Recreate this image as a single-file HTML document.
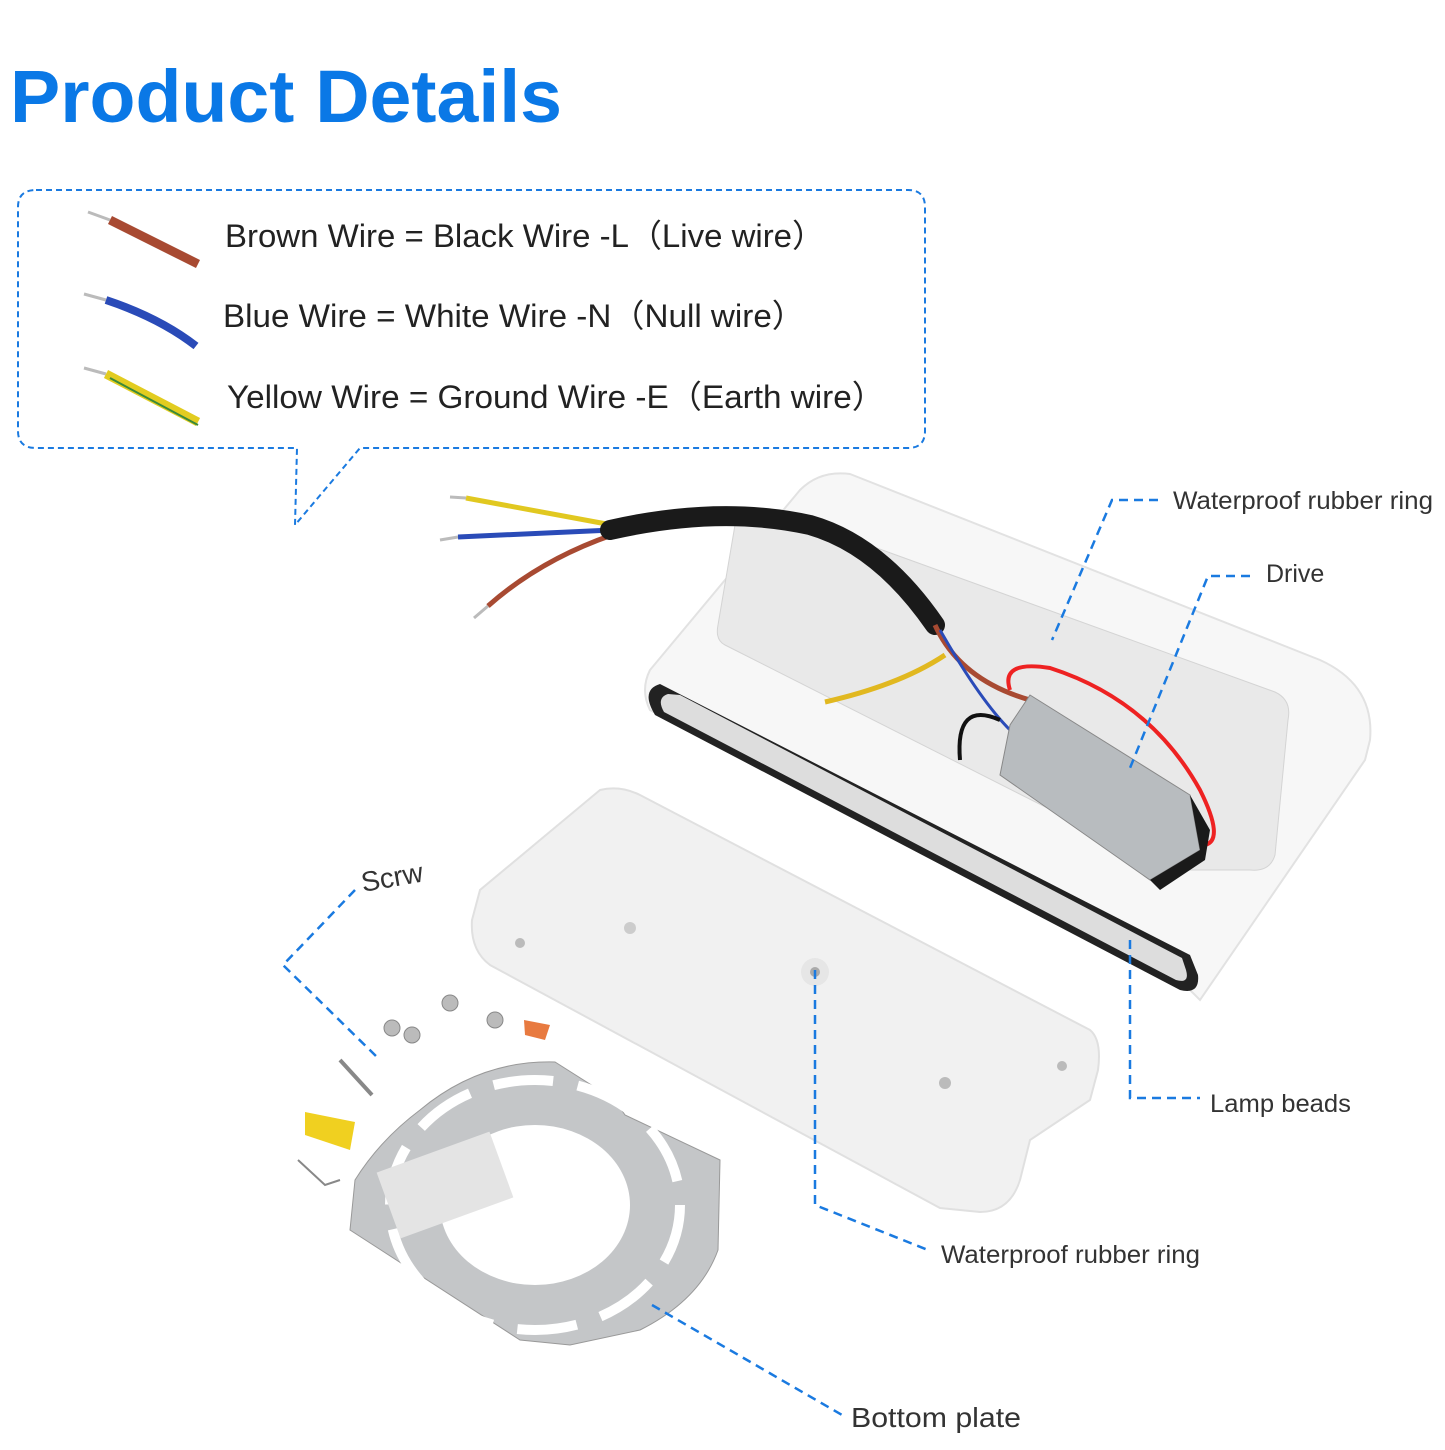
<!DOCTYPE html>
<html><head><meta charset="utf-8"><style>
html,body{margin:0;padding:0;background:#fff;}
body{width:1445px;height:1445px;overflow:hidden;font-family:"Liberation Sans",sans-serif;}
</style></head><body>
<svg width="1445" height="1445" viewBox="0 0 1445 1445" xmlns="http://www.w3.org/2000/svg" font-family="Liberation Sans, sans-serif">
<text x="10" y="122" font-size="74" font-weight="bold" fill="#0a78e6" textLength="552" lengthAdjust="spacingAndGlyphs">Product Details</text>
<!-- callout -->
<path d="M36 190 H908 Q925 190 925 207 V431 Q925 448 908 448 H360 L295 525 L297 448 H36 Q18 448 18 431 V207 Q18 190 36 190 Z" fill="none" stroke="#1a7ae0" stroke-width="2" stroke-dasharray="6,4"/>
<!-- wire samples -->
<line x1="88" y1="212" x2="110" y2="220" stroke="#bbb" stroke-width="3"/>
<line x1="110" y1="220" x2="198" y2="264" stroke="#a84a32" stroke-width="9"/>
<line x1="84" y1="294" x2="106" y2="300" stroke="#bbb" stroke-width="3"/>
<path d="M106 300 Q160 318 196 346" stroke="#2a4bb8" stroke-width="8" fill="none"/>
<line x1="84" y1="368" x2="106" y2="374" stroke="#bbb" stroke-width="3"/>
<line x1="106" y1="374" x2="198" y2="422" stroke="#e2cc20" stroke-width="9"/>
<line x1="110" y1="378" x2="198" y2="425" stroke="#3a8a3a" stroke-width="2"/>
<g font-size="32" fill="#222">
<text x="225" y="247" textLength="600" lengthAdjust="spacingAndGlyphs">Brown Wire = Black Wire -L（Live wire）</text>
<text x="223" y="327" textLength="582" lengthAdjust="spacingAndGlyphs">Blue Wire = White Wire -N（Null  wire）</text>
<text x="227" y="408" textLength="658" lengthAdjust="spacingAndGlyphs">Yellow Wire = Ground Wire -E（Earth wire）</text>
</g>
<!-- lamp body -->
<path d="M850 474 L1320 660 Q1375 685 1370 740 L1365 760 L1200 1000 L1190 990 L650 710 Q640 690 650 670 L800 490 Q820 470 850 474 Z" fill="#f7f7f7" stroke="#e2e2e2" stroke-width="2"/>
<path d="M660 684 Q640 690 655 715 L1180 990 Q1200 995 1198 975 L1190 955 Z" fill="#222"/>
<path d="M668 694 Q656 698 664 712 L1176 980 Q1190 984 1186 970 L1182 958 L680 695 Z" fill="#ddd"/>
<path d="M735 525 Q745 510 780 513 L1275 692 Q1292 700 1288 720 L1275 855 Q1270 872 1250 870 L1170 870 L725 645 Q715 640 718 625 Z" fill="#e9e9e9" stroke="#d4d4d4"/>
<!-- cable -->
<line x1="450" y1="497" x2="466" y2="498" stroke="#bbb" stroke-width="3"/>
<path d="M466 498 L612 525" stroke="#e1c820" stroke-width="5"/>
<line x1="440" y1="540" x2="458" y2="537" stroke="#bbb" stroke-width="3"/>
<path d="M458 537 L612 530" stroke="#2a4bb8" stroke-width="5"/>
<line x1="474" y1="618" x2="488" y2="606" stroke="#bbb" stroke-width="3"/>
<path d="M488 606 Q540 560 612 535" stroke="#a84a32" stroke-width="5" fill="none"/>
<path d="M610 530 Q720 505 810 525 Q880 545 935 625" stroke="#1a1a1a" stroke-width="20" fill="none" stroke-linecap="round"/>
<path d="M935 625 Q960 680 1030 700" stroke="#a84a32" stroke-width="5" fill="none"/>
<path d="M940 630 Q980 700 1010 730" stroke="#2a4bb8" stroke-width="3" fill="none"/>
<path d="M945 655 Q900 685 825 702" stroke="#e1b820" stroke-width="5" fill="none"/>
<path d="M1010 690 Q1000 660 1050 668 Q1150 700 1200 790 Q1225 840 1205 845" stroke="#e22" stroke-width="4" fill="none"/>
<path d="M1000 720 Q955 700 960 760" stroke="#111" stroke-width="4" fill="none"/>
<!-- driver -->
<path d="M1030 695 L1190 795 L1200 850 L1150 880 L1000 775 L1010 725 Z" fill="#b8bcbf" stroke="#888"/>
<path d="M1190 795 L1210 830 L1205 860 L1160 890 L1150 880 L1200 850 Z" fill="#1a1a1a"/>
<!-- bottom plate -->
<path d="M600 790 Q620 785 640 795 L1090 1030 Q1102 1040 1098 1070 L1090 1100 L1030 1140 L1020 1180 Q1010 1212 980 1212 L940 1208 L490 965 Q470 950 472 920 L480 890 Z" fill="#f1f1f1" stroke="#e0e0e0" stroke-width="2"/>
<circle cx="630" cy="928" r="6" fill="#ccc"/><circle cx="815" cy="972" r="14" fill="#e6e6e6"/><circle cx="815" cy="972" r="5" fill="#aaa"/>
<circle cx="945" cy="1083" r="6" fill="#bbb"/><circle cx="520" cy="943" r="5" fill="#bbb"/><circle cx="1062" cy="1066" r="5" fill="#bbb"/>
<!-- mounting plate -->
<path d="M420 1110 Q480 1060 555 1062 L615 1100 L625 1115 L720 1160 L718 1250 Q700 1300 640 1330 L570 1345 L520 1340 L350 1230 L355 1180 Q380 1140 420 1110 Z" fill="#c4c6c8" stroke="#999"/>
<ellipse cx="535" cy="1205" rx="95" ry="80" fill="#fff"/>
<ellipse cx="535" cy="1205" rx="145" ry="125" fill="none" stroke="#fff" stroke-width="10" stroke-dasharray="60,25"/>
<rect x="385" y="1150" width="120" height="70" fill="#e4e4e4" transform="rotate(-20 445 1185)"/>
<!-- screws -->
<g fill="#bbb" stroke="#888">
<circle cx="392" cy="1028" r="8"/><circle cx="412" cy="1035" r="8"/><circle cx="450" cy="1003" r="8"/><circle cx="495" cy="1020" r="8"/>
<line x1="340" y1="1060" x2="372" y2="1095" stroke-width="4"/>
</g>
<path d="M524 1020 L550 1025 L545 1040 L525 1035 Z" fill="#e87a40"/>
<path d="M305 1112 L355 1122 L350 1150 L305 1135 Z" fill="#f0d020"/>
<path d="M298 1160 L325 1185 L340 1180" stroke="#888" stroke-width="2" fill="none"/>
<!-- leaders -->
<g stroke="#1a7ae0" stroke-width="2.5" stroke-dasharray="9,6" fill="none">
<path d="M1158 500 H1112 L1052 640"/>
<path d="M1250 576 H1208 L1130 768"/>
<path d="M1130 940 V1098 H1200"/>
<path d="M815 970 V1205 L928 1250"/>
<path d="M652 1305 L842 1415"/>
<path d="M355 890 L283 965 L378 1058"/>
</g>
<g font-size="25" fill="#333">
<text x="1173" y="509" textLength="260" lengthAdjust="spacingAndGlyphs">Waterproof rubber ring</text>
<text x="1266" y="582">Drive</text>
<text x="1210" y="1112" textLength="141" lengthAdjust="spacingAndGlyphs">Lamp beads</text>
<text x="941" y="1263" textLength="259" lengthAdjust="spacingAndGlyphs">Waterproof rubber ring</text>
<text x="851" y="1427" font-size="28" textLength="170" lengthAdjust="spacingAndGlyphs">Bottom plate</text>
<text x="363" y="892" font-size="28" transform="rotate(-10 363 892)">Scrw</text>
</g>
</svg>
</body></html>
